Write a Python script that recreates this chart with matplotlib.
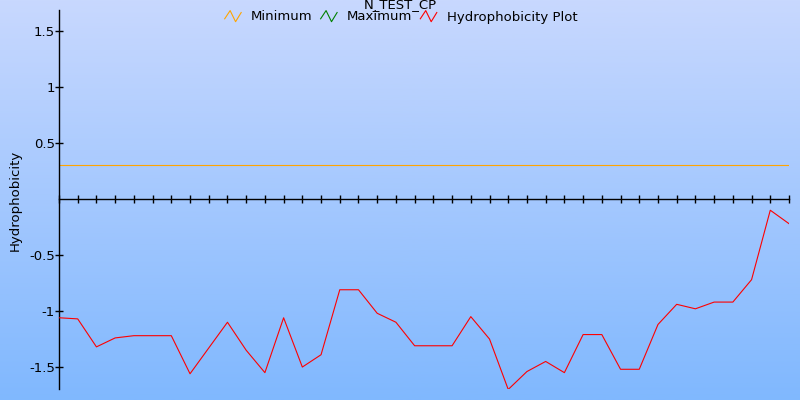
#!/usr/bin/env python3
# -*- coding: utf-8 -*-
"""
grafico de hidrofobicidade - N_TEST_CP
"""

import numpy as np
import matplotlib
matplotlib.use('Agg')
import matplotlib.pyplot as plt
from matplotlib.lines import Line2D
from matplotlib.legend_handler import HandlerBase
from matplotlib.colors import LinearSegmentedColormap


##############################################################################
# dados

titulo = 'N_TEST_CP'
y_label = 'Hydrophobicity'
nomes_series = ['Minimum', 'Maximum', 'Hydrophobicity Plot']

hidrofobicidade = [-1.06, -1.07, -1.32, -1.24, -1.22, -1.22, -1.22, -1.56, -1.33, -1.10,
                   -1.35, -1.55, -1.06, -1.50, -1.39, -0.81, -0.81, -1.02, -1.10, -1.31,
                   -1.31, -1.31, -1.05, -1.25, -1.70, -1.54, -1.45, -1.55, -1.21, -1.21,
                   -1.52, -1.52, -1.12, -0.94, -0.98, -0.92, -0.92, -0.72, -0.10, -0.22]
minimo = [0.30] * len(hidrofobicidade)
maximo = []   # nao aparece no grafico

y_ticks = [-1.5, -1, -0.5, 0.5, 1, 1.5]
y_tick_labels = ['-1.5', '-1', '-0.5', '0.5', '1', '1.5']

cores = ['#ffa500', '#008000', '#ff0000']


##############################################################################
# icone em zigue-zague para a legenda

class HandlerZigue(HandlerBase):
    def create_artists(self, legend, orig_handle, xdescent, ydescent,
                       width, height, fontsize, trans):
        xs = np.array([0.0, 0.33, 0.66, 1.0]) * width - xdescent
        ys = np.array([0.2, 1.05, -0.1, 0.85]) * height - ydescent
        linha = Line2D(xs, ys, color=orig_handle.get_color(), lw=0.8)
        linha.set_transform(trans)
        return [linha]


##############################################################################
# figura

plt.rcParams['font.family'] = ['DejaVu Sans']
plt.rcParams['font.size'] = 9.5

fig = plt.figure(figsize=(8, 4), dpi=100)

# fundo em degrade
fundo = fig.add_axes([0, 0, 1, 1], zorder=-1)
cmap = LinearSegmentedColormap.from_list('fundo', ['#80b8fe', '#c8d8fe'])
fundo.imshow(np.linspace(0, 1, 256).reshape(-1, 1), aspect='auto', cmap=cmap,
             origin='lower', extent=[0, 1, 0, 1])
fundo.axis('off')

ax = fig.add_axes([59 / 800, 1 - 389 / 400, 730 / 800, 379 / 400])
ax.set_facecolor('none')

x = np.arange(len(hidrofobicidade))
l_min, = ax.plot(x[:len(minimo)], minimo, color=cores[0], lw=0.8, zorder=2)
l_max, = ax.plot(x[:len(maximo)], maximo, color=cores[1], lw=0.8, zorder=2)
l_hid, = ax.plot(x, hidrofobicidade, color=cores[2], lw=0.8, zorder=3)

ax.set_xlim(0, len(hidrofobicidade) - 1)
ax.set_ylim(-1.696, 1.6875)

ax.spines['right'].set_visible(False)
ax.spines['top'].set_visible(False)
ax.spines['bottom'].set_position(('data', 0))
ax.spines['left'].set_linewidth(1.0)
ax.spines['bottom'].set_linewidth(1.0)

ax.set_xticks(x)
ax.set_xticklabels([])
ax.set_yticks(y_ticks)
ax.set_yticklabels(y_tick_labels)
ax.tick_params(axis='both', direction='inout', length=6, width=1, colors='black', pad=0)

fig.text(15 / 800, 0.5, y_label, rotation=90, ha='center', va='center', fontsize=9.5)
fig.text(0.5, 1 - 5 / 400, titulo, ha='center', va='center', fontsize=9.5)

fig.legend([l_min, l_max, l_hid], nomes_series, ncol=3, frameon=False,
           loc='center', bbox_to_anchor=(401 / 800, 1 - 17 / 400),
           handler_map={Line2D: HandlerZigue()},
           handlelength=1.25, handleheight=0.75, handletextpad=0.75,
           columnspacing=0.6, borderpad=0, borderaxespad=0, fontsize=9.5)

plt.savefig('out.png', dpi=100)
